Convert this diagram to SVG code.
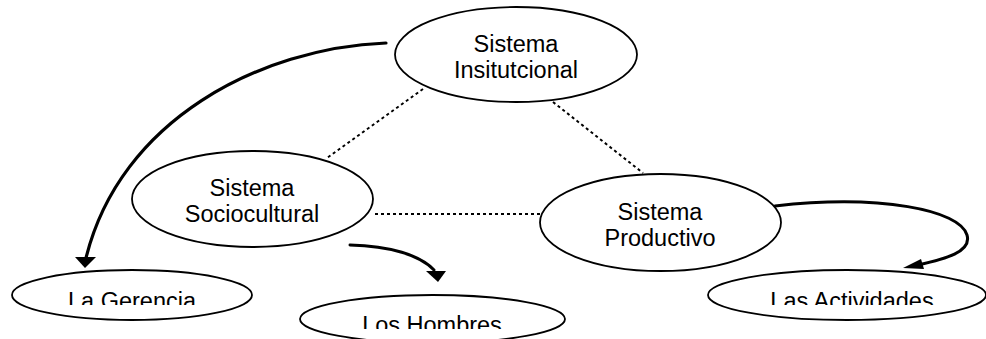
<svg xmlns="http://www.w3.org/2000/svg" width="986" height="339" viewBox="0 0 986 339">
<style>
.node ellipse{fill:#fff;stroke:#000;stroke-width:1.8}
.node text{font-family:"Liberation Sans",Arial,sans-serif;font-size:23.5px;fill:#000;text-anchor:middle}
.dot{fill:none;stroke:#000;stroke-width:2;stroke-dasharray:3 3}
.arr{fill:none;stroke:#000;stroke-width:3;stroke-linecap:round}
.head{fill:#000;stroke:none}
</style>
<defs>
<clipPath id="clipTop"><rect x="0" y="0" width="986" height="305"/></clipPath>
<clipPath id="clipLH"><rect x="0" y="0" width="986" height="329"/></clipPath>
</defs>
<rect width="986" height="339" fill="#fff"/>
<g id="connectors">
<line class="dot" x1="423" y1="89" x2="327" y2="158"/>
<line class="dot" x1="553" y1="102" x2="643" y2="173"/>
<line class="dot" x1="375" y1="214" x2="541" y2="214"/>
<path class="arr" d="M386,43 C260,48 120,120 86,258" style="stroke-width:3.2"/>
<polygon class="head" points="75,257 96,257 85,268"/>
<path class="arr" d="M350,245 C390,246 420,255 434,270"/>
<polygon class="head" points="426,271 446,271 438,282"/>
<path class="arr" d="M775,206 C880,194 960,210 967,235 C972,252 945,259 918,265"/>
<polygon class="head" points="903,268 921,259 924,269"/>
</g>
<g id="n-institucional" class="node">
<ellipse cx="516" cy="54.5" rx="121" ry="47.5"/>
<text x="516" y="52">Sistema</text>
<text x="516" y="77.5">Insitutcional</text>
</g>
<g id="n-sociocultural" class="node">
<ellipse cx="252.5" cy="199" rx="120.5" ry="48"/>
<text x="252" y="196">Sistema</text>
<text x="252" y="222">Sociocultural</text>
</g>
<g id="n-productivo" class="node">
<ellipse cx="660.5" cy="222.5" rx="120.5" ry="48.5"/>
<text x="660" y="220">Sistema</text>
<text x="660" y="246">Productivo</text>
</g>
<g id="n-gerencia" class="node">
<ellipse cx="132" cy="295" rx="120" ry="25"/>
<text x="132" y="309" clip-path="url(#clipTop)">La Gerencia</text>
</g>
<g id="n-hombres" class="node">
<ellipse cx="432.5" cy="319" rx="132.5" ry="24"/>
<text x="432" y="333" clip-path="url(#clipLH)">Los Hombres</text>
</g>
<g id="n-actividades" class="node">
<ellipse cx="847" cy="295" rx="139" ry="25"/>
<text x="852" y="308.5" clip-path="url(#clipTop)">Las Actividades</text>
</g>
</svg>
